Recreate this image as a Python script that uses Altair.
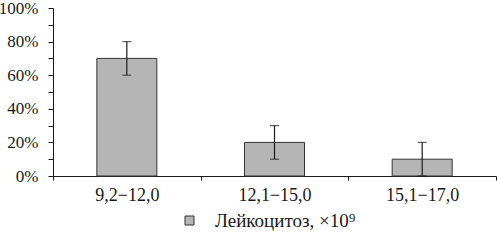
import altair as alt
import pandas as pd

categories = ["9,2−12,0", "12,1−15,0", "15,1−17,0"]
values = [70, 20, 10]
err_lo = [60, 10, 0]
err_hi = [80, 30, 20]
series_name = "Лейкоцитоз,  ×10⁹"
y_ticks = [0, 10, 20, 30, 40, 50, 60, 70, 80, 90, 100]

df = pd.DataFrame({
    "cat": categories,
    "val": values,
    "lo": err_lo,
    "hi": err_hi,
    "series": [series_name] * len(categories),
})

FONT = "Liberation Serif"
INK = "#1a1a1a"

x_axis = alt.Axis(
    tickBand="extent",
    labelAngle=0,
    labelFont=FONT,
    labelFontSize=18,
    labelColor=INK,
    labelPadding=6,
    domainColor=INK,
    tickColor=INK,
    tickSize=4,
    grid=False,
    title=None,
)
y_axis = alt.Axis(
    values=y_ticks,
    labelExpr="(round(datum.value) % 20 == 0) ? (round(datum.value) + '%') : ''",
    labelOverlap=False,
    labelBound=False,
    labelFlush=False,
    labelFont=FONT,
    labelFontSize=17,
    labelColor=INK,
    labelPadding=10,
    domainColor=INK,
    tickColor=INK,
    tickSize=5,
    grid=False,
    title=None,
)

x_scale = alt.Scale(paddingInner=0, paddingOuter=0)
y_scale = alt.Scale(domain=[0, 100], nice=False)


def xe():
    return alt.X("cat:N", sort=categories, title=None, scale=x_scale, axis=x_axis)


def ye(field):
    return alt.Y(field, scale=y_scale, title=None, axis=y_axis)


bars = alt.Chart(df).mark_bar(size=60, stroke="#333333", strokeWidth=1).encode(
    x=xe(),
    y=ye("val:Q"),
    color=alt.Color(
        "series:N",
        scale=alt.Scale(range=["#b5b5b5"]),
        legend=alt.Legend(
            title=None,
            orient="none",
            legendX=127,
            legendY=203,
            symbolType="square",
            symbolSize=81,
            symbolStrokeColor="#333333",
            symbolStrokeWidth=1,
            labelFont=FONT,
            labelFontSize=19,
            labelColor=INK,
            labelOffset=16,
            labelLimit=300,
        ),
    ),
)

rules = alt.Chart(df).mark_rule(color=INK, strokeWidth=1.2).encode(
    x=xe(),
    y=ye("lo:Q"),
    y2="hi:Q",
)

caps_hi = alt.Chart(df).mark_tick(color=INK, size=9, thickness=1.2, orient="horizontal").encode(
    x=xe(),
    y=ye("hi:Q"),
)
caps_lo = alt.Chart(df).mark_tick(color=INK, size=9, thickness=1.2, orient="horizontal").encode(
    x=xe(),
    y=ye("lo:Q"),
)

chart = (
    alt.layer(bars, rules, caps_hi, caps_lo)
    .properties(
        width=443,
        height=168,
        autosize=alt.AutoSizeParams(type="none"),
        padding={"left": 53, "top": 8, "right": 1, "bottom": 64},
        background="white",
    )
    .configure_view(stroke=None)
)

chart.save("out.html", embed_options={"renderer": "svg", "actions": False})
